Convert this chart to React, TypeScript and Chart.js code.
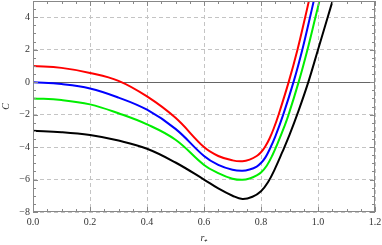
import React, { useEffect, useRef } from "react";
import { Chart, registerables } from "chart.js";

Chart.register(...registerables);

const redX = [0, 0.1, 0.2, 0.3, 0.4, 0.5, 0.6, 0.65, 0.7, 0.735, 0.76, 0.785, 0.8, 0.815, 0.83, 0.845, 0.862, 0.897, 0.928, 0.955, 0.968];
const redY = [1.0, 0.88, 0.57, 0.08, -0.88, -2.2, -4.0, -4.55, -4.82, -4.87, -4.77, -4.55, -4.32, -3.96, -3.47, -2.84, -1.99, 0, 2, 4, 5];

const blueX = [0, 0.1, 0.2, 0.3, 0.4, 0.5, 0.6, 0.65, 0.7, 0.735, 0.76, 0.785, 0.8, 0.815, 0.83, 0.85, 0.878, 0.914, 0.945, 0.972, 0.985];
const blueY = [0, -0.12, -0.39, -0.95, -1.7, -2.88, -4.55, -5.1, -5.4, -5.46, -5.38, -5.2, -4.98, -4.65, -4.15, -3.35, -2.0, 0, 2, 4, 5];

const greenX = [0, 0.1, 0.2, 0.3, 0.4, 0.5, 0.6, 0.65, 0.7, 0.735, 0.76, 0.785, 0.8, 0.82, 0.84, 0.86, 0.88, 0.896, 0.932, 0.963, 0.991, 1.005];
const greenY = [-1, -1.1, -1.37, -1.92, -2.6, -3.55, -5.1, -5.6, -5.95, -6.02, -5.94, -5.75, -5.57, -5.15, -4.5, -3.7, -2.82, -2.05, 0, 2, 4, 5];

const blackX = [0, 0.1, 0.2, 0.3, 0.4, 0.5, 0.6, 0.65, 0.7, 0.735, 0.77, 0.8, 0.825, 0.85, 0.875, 0.9, 0.93, 0.966, 1.0, 1.034, 1.051];
const blackY = [-3, -3.08, -3.26, -3.6, -4.1, -4.95, -6.0, -6.55, -7.0, -7.2, -7.06, -6.72, -6.15, -5.3, -4.3, -3.25, -1.85, 0, 2, 4, 5];

const xTicks = [0, 0.2, 0.4, 0.6, 0.8, 1.0, 1.2];
const yTicks = [-8, -6, -4, -2, 0, 2, 4];
const xMinorStep = 0.05;
const yMinorStep = 0.5;

const pts = (xs: number[], ys: number[]) => xs.map((x, i) => ({ x, y: ys[i] }));

const framePlugin = {
  id: "frame",
  beforeDatasetsDraw(chart: any) {
    const { ctx, chartArea: a, scales } = chart;
    const y0 = scales.y.getPixelForValue(0);
    ctx.save();
    ctx.strokeStyle = "#666";
    ctx.lineWidth = 1;
    ctx.beginPath();
    ctx.moveTo(a.left, Math.round(y0) + 0.5);
    ctx.lineTo(a.right, Math.round(y0) + 0.5);
    ctx.stroke();
    ctx.restore();
  },
  afterDatasetsDraw(chart: any) {
    const { ctx, chartArea: a, scales } = chart;
    const xs = scales.x;
    const ys = scales.y;
    ctx.save();
    ctx.strokeStyle = "#888";
    ctx.lineWidth = 1;
    ctx.strokeRect(a.left + 0.5, a.top + 0.5, a.right - a.left - 1, a.bottom - a.top - 1);
    ctx.beginPath();
    for (let i = 0; i <= Math.round(1.2 / xMinorStep); i++) {
      const v = i * xMinorStep;
      const major = i % 4 === 0;
      const len = major ? 5 : 3;
      const px = Math.round(xs.getPixelForValue(v)) + 0.5;
      ctx.moveTo(px, a.bottom);
      ctx.lineTo(px, a.bottom - len);
      ctx.moveTo(px, a.top);
      ctx.lineTo(px, a.top + len);
    }
    for (let i = 0; i <= Math.round(13 / yMinorStep); i++) {
      const v = -8 + i * yMinorStep;
      const major = i % 4 === 0;
      const len = major ? 5 : 3;
      const py = Math.round(ys.getPixelForValue(v)) + 0.5;
      ctx.moveTo(a.left, py);
      ctx.lineTo(a.left + len, py);
      ctx.moveTo(a.right, py);
      ctx.lineTo(a.right - len, py);
    }
    ctx.stroke();
    ctx.restore();
  },
};

export default function App() {
  const ref = useRef<HTMLCanvasElement | null>(null);
  useEffect(() => {
    document.body.style.margin = "0";
    const canvas = ref.current!;
    const line = (label: string, xs: number[], ys: number[], color: string) => ({
      label,
      data: pts(xs, ys),
      borderColor: color,
      backgroundColor: color,
      borderWidth: 2,
      pointRadius: 0,
      tension: 0.4,
      fill: false,
    });
    const chart = new Chart(canvas, {
      type: "line",
      data: {
        datasets: [
          line("black", blackX, blackY, "#000000"),
          line("green", greenX, greenY, "#00ee00"),
          line("blue", blueX, blueY, "#0000ff"),
          line("red", redX, redY, "#ff0000"),
        ],
      },
      options: {
        animation: false,
        responsive: false,
        layout: { padding: { top: 1, right: 7, left: 0, bottom: 0 } },
        plugins: { legend: { display: false }, tooltip: { enabled: false } },
        scales: {
          x: {
            type: "linear",
            min: 0,
            max: 1.2,
            afterBuildTicks: (s: any) => {
              s.ticks = xTicks.map((v) => ({ value: v }));
            },
            afterFit: (s: any) => {
              s.height = 33;
              s.paddingLeft = 0;
              s.paddingRight = 0;
            },
            ticks: {
              padding: 4,
              color: "#333",
              font: { family: "'Liberation Serif', serif", size: 10 },
              callback: (v: any) => Number(v).toFixed(1),
              maxRotation: 0,
              autoSkip: false,
            },
            grid: { color: "#c4c4c4", lineWidth: 1, drawTicks: false },
            border: { display: false, dash: [4, 3] },
            title: {
              display: true,
              text: "r₊",
              color: "#333",
              font: { family: "'Liberation Serif', serif", size: 10, style: "italic" },
              padding: { top: 0, bottom: 1 },
            },
          },
          y: {
            type: "linear",
            min: -8,
            max: 5,
            afterBuildTicks: (s: any) => {
              s.ticks = yTicks.map((v) => ({ value: v }));
            },
            afterFit: (s: any) => {
              s.width = 33;
              s.paddingTop = 0;
              s.paddingBottom = 0;
            },
            ticks: {
              padding: 3,
              color: "#333",
              font: { family: "'Liberation Serif', serif", size: 10 },
              callback: (v: any) => String(v).replace("-", "−"),
              autoSkip: false,
            },
            grid: { color: "#c4c4c4", lineWidth: 1, drawTicks: false },
            border: { display: false, dash: [4, 3] },
            title: {
              display: true,
              text: "C",
              color: "#333",
              font: { family: "'Liberation Serif', serif", size: 10, style: "italic" },
              padding: { top: 0, bottom: 2 },
            },
          },
        },
      },
      plugins: [framePlugin],
    });
    return () => chart.destroy();
  }, []);
  return <canvas ref={ref} width={382} height={245} style={{ display: "block" }} />;
}
